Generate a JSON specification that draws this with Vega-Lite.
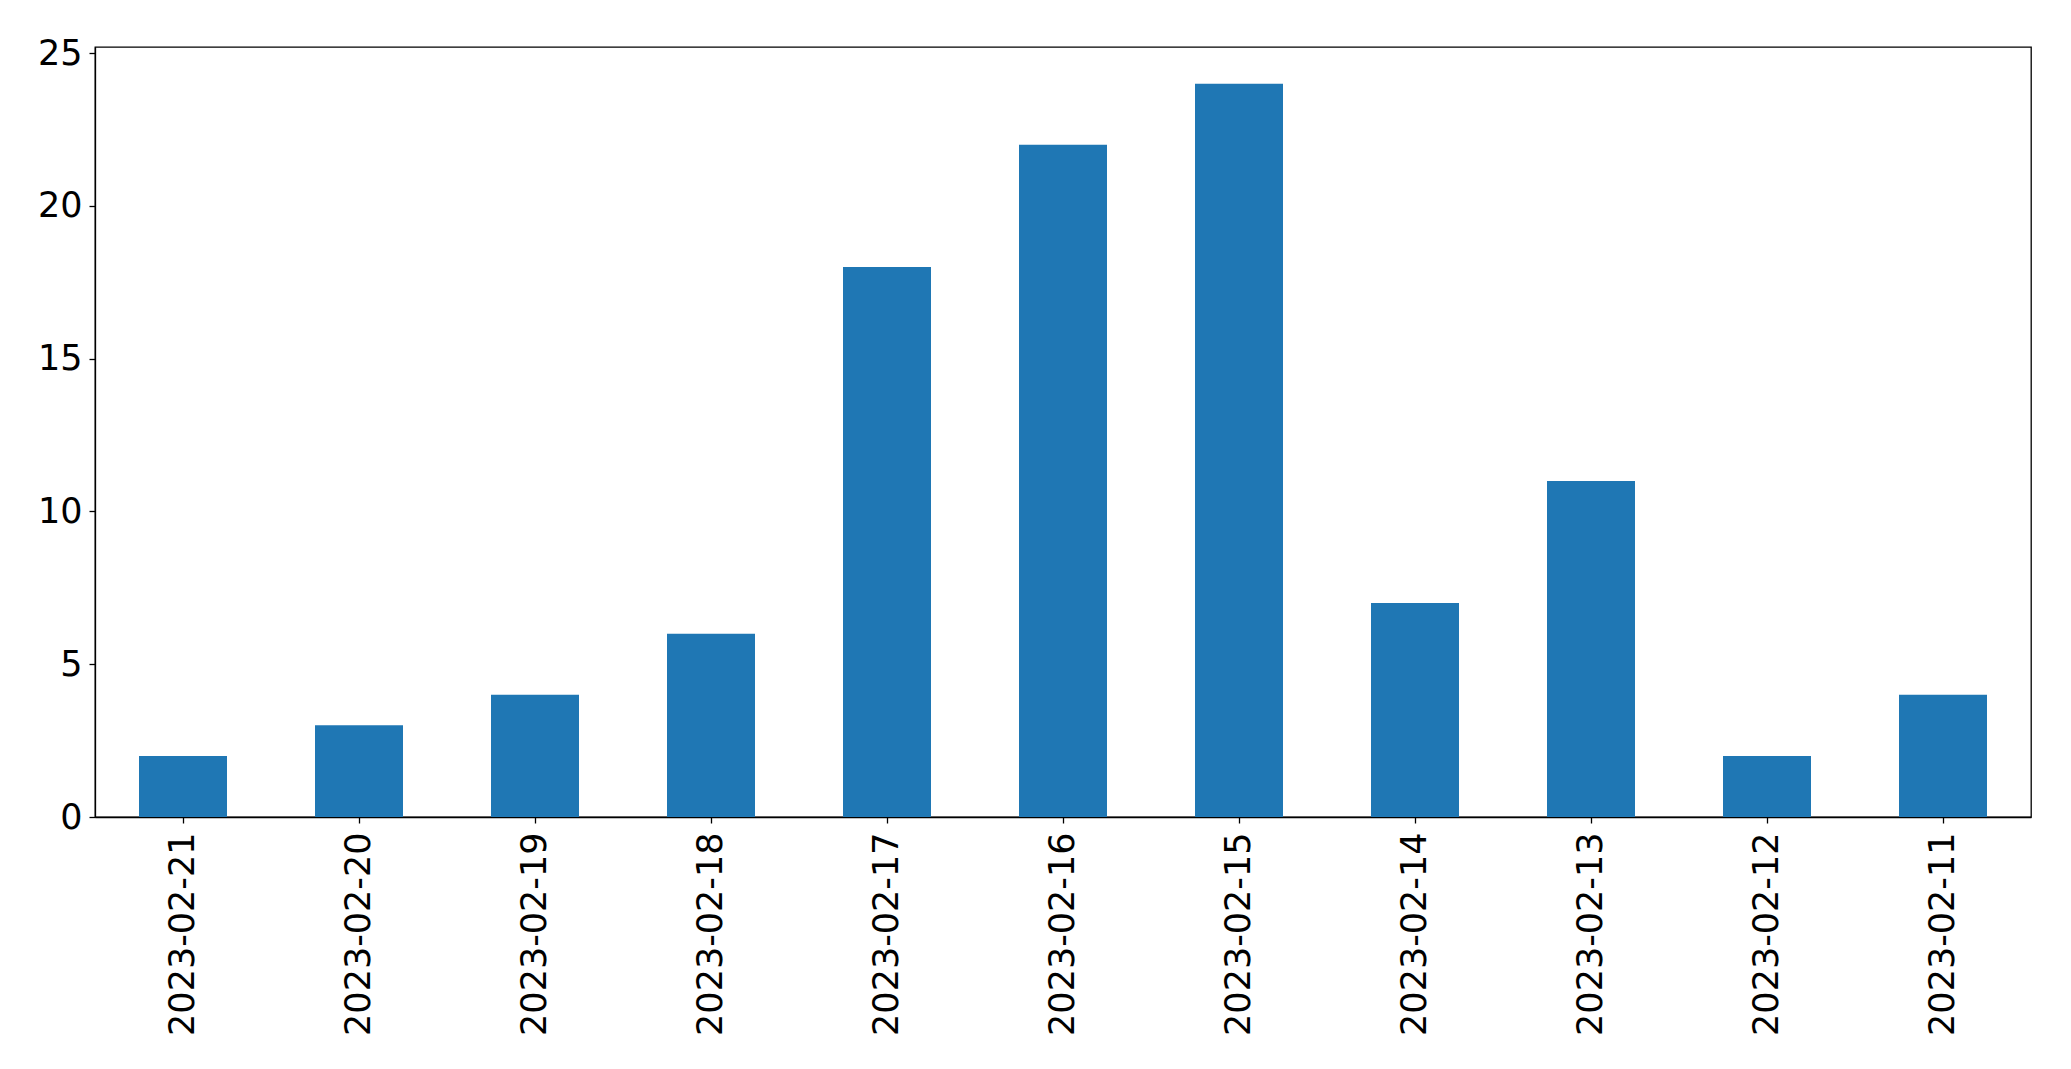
{
  "$schema": "https://vega.github.io/schema/vega-lite/v6.json",
  "autosize": {"type": "none"},
  "padding": {"left": 95, "top": 47, "right": 40, "bottom": 252},
  "width": 1936,
  "height": 770,
  "background": "white",
  "config": {
    "font": "DejaVu Sans",
    "view": {"stroke": "black", "strokeWidth": 1.3},
    "axis": {
      "grid": false,
      "domainColor": "black",
      "domainWidth": 1.3,
      "tickColor": "black",
      "tickWidth": 1.3,
      "tickSize": 6,
      "labelFont": "DejaVu Sans",
      "labelFontSize": 35,
      "labelColor": "black",
      "labelLimit": 0,
      "title": null
    }
  },
  "data": {
    "values": [
      {"date": "2023-02-21", "count": 2},
      {"date": "2023-02-20", "count": 3},
      {"date": "2023-02-19", "count": 4},
      {"date": "2023-02-18", "count": 6},
      {"date": "2023-02-17", "count": 18},
      {"date": "2023-02-16", "count": 22},
      {"date": "2023-02-15", "count": 24},
      {"date": "2023-02-14", "count": 7},
      {"date": "2023-02-13", "count": 11},
      {"date": "2023-02-12", "count": 2},
      {"date": "2023-02-11", "count": 4}
    ]
  },
  "mark": {"type": "bar", "color": "#1f77b4"},
  "encoding": {
    "x": {
      "field": "date",
      "type": "nominal",
      "sort": null,
      "scale": {"paddingInner": 0.5, "paddingOuter": 0.25},
      "axis": {"labelAngle": -90, "labelPadding": 9}
    },
    "y": {
      "field": "count",
      "type": "quantitative",
      "scale": {"domain": [0, 25.2], "nice": false, "zero": true},
      "axis": {"values": [0, 5, 10, 15, 20, 25], "labelPadding": 7}
    }
  }
}
